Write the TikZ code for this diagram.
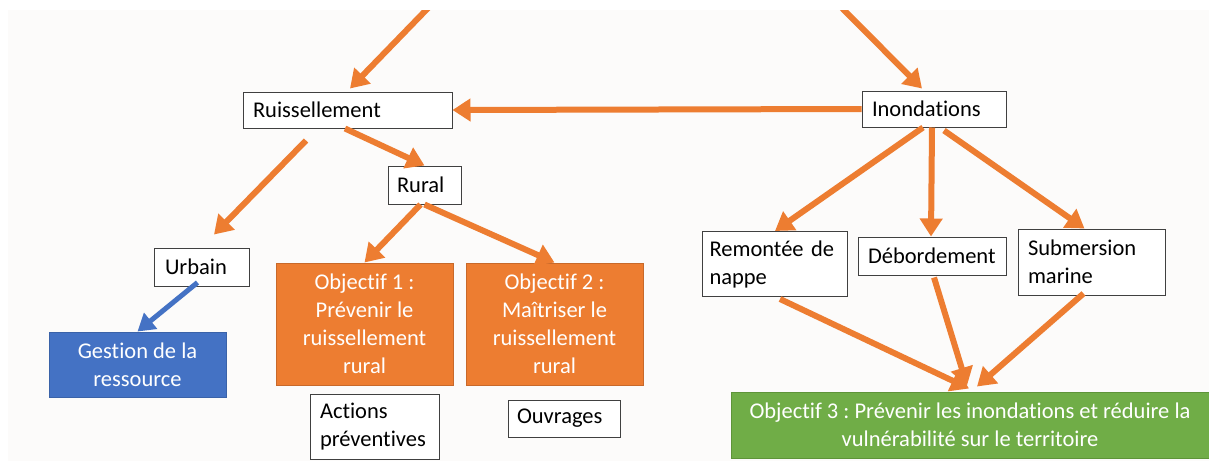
\documentclass[tikz,border=0pt]{standalone}
\usepackage{fontspec}
\setmainfont{Carlito}[Ligatures={NoCommon,NoContextual}]
\usetikzlibrary{arrows.meta}
\definecolor{bgc}{HTML}{FCFBFA}
\definecolor{boxline}{HTML}{404040}
\definecolor{orfill}{HTML}{ED7D31}
\definecolor{orline}{HTML}{C8692A}
\definecolor{blfill}{HTML}{4472C4}
\definecolor{blline}{HTML}{3A62A8}
\definecolor{grfill}{HTML}{70AD47}
\definecolor{grline}{HTML}{5E9439}
\frenchspacing
\begin{document}
\begin{tikzpicture}[x=1pt,y=-1pt,
  txt/.style={font=\fontsize{22.5}{28}\selectfont\frenchspacing},
  box/.style={txt, draw=boxline, line width=1pt, fill=white, inner xsep=10pt, inner ysep=0pt, align=left, text=black},
  cbox/.style={txt, line width=1pt, inner sep=0pt, align=center, text=white},
  obox/.style={cbox, fill=orfill, draw=orline},
  bbox/.style={cbox, fill=blfill, draw=blline},
  gbox/.style={cbox, fill=grfill, draw=grline},
  arr/.style={draw=orfill, line width=6pt, -{Triangle[width=22pt,length=18pt]}},
  barr/.style={draw=blfill, line width=5pt, -{Triangle[width=20pt,length=17pt]}}]
\useasboundingbox (0,0) rectangle (1209,461);
\fill[white] (0,0) rectangle (1209,461);
\fill[bgc] (8,10) rectangle (1209,461);
\begin{scope}
\clip (8,10) rectangle (1209,461);
% nodes
\node[box, text width=189pt, minimum height=36pt] (ruis) at (347.5,110) {Ruissellement};
\node[box, text width=124pt, minimum height=36pt] (inon) at (934,109) {Inondations};
\node[box, text width=55pt, inner xsep=9pt, minimum height=38pt] (rural) at (424.5,185) {Rural};
\node[box, text width=73pt, inner xsep=11pt, minimum height=38pt] (urbain) at (201.5,267) {Urbain};
\node[bbox, minimum width=177pt, minimum height=65pt] (gestion) at (137.5,364.5) {Gestion de la\\ressource};
\node[obox, minimum width=177pt, minimum height=122pt] (obj1) at (364.5,324) {Objectif 1 :\\Prévenir le\\ruissellement\\rural};
\node[obox, minimum width=177pt, minimum height=122pt] (obj2) at (554.5,324) {Objectif 2 :\\Maîtriser le\\ruissellement\\rural};
\node[box, text width=109pt, minimum height=65pt] (actions) at (374.5,426.5) {Actions\\préventives};
\node[box, text width=94pt, inner xsep=9pt, minimum height=37pt] (ouvrages) at (564,418.5) {Ouvrages};
\node[box, text width=131pt, inner xsep=7pt, minimum height=65pt] (remontee) at (775,264) {Remontée de\\nappe};
\node[box, text width=128pt, minimum height=38pt] (debord) at (932,256) {Débordement};
\node[box, text width=127pt, minimum height=66pt] (submersion) at (1091.5,262) {Submersion\\marine};
\node[gbox, minimum width=478pt, minimum height=66pt] (obj3) at (970,425) {Objectif 3 : Prévenir les inondations et réduire la\\vulnérabilité sur le territoire};
% free ends
\coordinate (tl) at (430,6);
\coordinate (tr) at (840,6);
% connectors
\draw[arr] (tl) -- ([xshift=2.5pt,yshift=3pt]ruis.north);
\draw[arr] (tr) -- ([xshift=-12pt,yshift=2pt]inon.north);
\draw[arr] (inon.west) -- (ruis.east);
\draw[arr] ([xshift=-2.5pt]ruis.south) -- (rural.north);
\draw[arr] ([xshift=-41.5pt,yshift=-12pt]ruis.south) -- ([xshift=12.5pt,yshift=13pt]urbain.north);
\draw[barr] ([xshift=-4pt,yshift=4pt]urbain.south) -- (gestion.north);
\draw[arr] ([xshift=-4pt]rural.south) -- (obj1.north);
\draw[arr] (rural.south) -- (obj2.north);
\draw[arr] ([xshift=-11pt]inon.south) -- (remontee.north);
\draw[arr] ([xshift=-2pt]inon.south) -- ([xshift=-1pt]debord.north);
\draw[arr] ([xshift=10pt,yshift=-3pt]inon.south) -- ([xshift=-7pt]submersion.north);
\draw[arr] ([xshift=5pt,yshift=-2pt]remontee.south) -- ([xshift=-1pt,yshift=3pt]obj3.north);
\draw[arr] ([xshift=2pt,yshift=-2pt]debord.south) -- ([xshift=-3pt,yshift=6pt]obj3.north);
\draw[arr] ([xshift=-8pt,yshift=2pt]submersion.south) -- ([xshift=7pt,yshift=5pt]obj3.north);
\end{scope}
\end{tikzpicture}
\end{document}
